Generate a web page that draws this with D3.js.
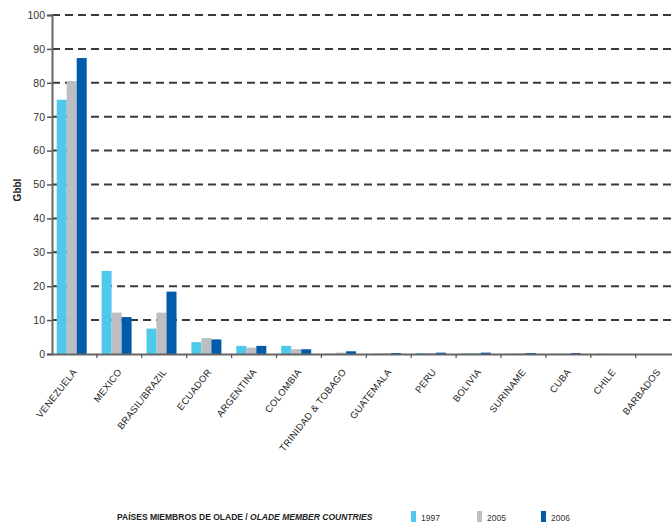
<!DOCTYPE html>
<html>
<head>
<meta charset="utf-8">
<script src="https://cdn.jsdelivr.net/npm/d3@7"></script>
<style>
  html, body { margin: 0; padding: 0; background: #fff; }
  svg { display: block; }
</style>
</head>
<body>
<svg id="chart" width="672" height="527"></svg>
<script>
const categories = ["VENEZUELA", "MEXICO", "BRASIL/BRAZIL", "ECUADOR", "ARGENTINA", "COLOMBIA",
  "TRINIDAD & TOBAGO", "GUATEMALA", "PERU", "BOLIVIA", "SURINAME", "CUBA", "CHILE", "BARBADOS"];
const seriesNames = ["1997", "2005", "2006"];
const values1997 = [75.0, 24.5, 7.5, 3.5, 2.4, 2.4, 0.1, 0.1, 0.3, 0.2, 0.1, 0.1, 0.1, 0.0];
const values2005 = [80.5, 12.2, 12.2, 4.7, 1.9, 1.4, 0.4, 0.2, 0.3, 0.3, 0.2, 0.1, 0.0, 0.0];
const values2006 = [87.3, 10.9, 18.4, 4.3, 2.4, 1.4, 0.8, 0.3, 0.4, 0.4, 0.3, 0.3, 0.0, 0.0];
const yTicks = [0, 10, 20, 30, 40, 50, 60, 70, 80, 90, 100];
const colors = ["#4EC9EC", "#BDBEC2", "#005BAA"];
const yLabel = "Gbbl";
const legendTitleNormal = "PAÍSES MIEMBROS DE OLADE / ";
const legendTitleItalic = "OLADE MEMBER COUNTRIES";

const allValues = [values1997, values2005, values2006];
const svg = d3.select("#chart");
const font = "'Liberation Sans Narrow', 'Arial Narrow', 'Liberation Sans', Arial, sans-serif";

const x0 = 52, yBase = 354, yTop = 15;
const step = 44.9;
const x = d3.scaleBand().domain(categories).range([x0, x0 + step * categories.length]).padding(0);
const xi = d3.scaleBand().domain(seriesNames).range([4.7, 34.7]).padding(0);
const y = d3.scaleLinear().domain([0, 100]).range([yBase, yTop]);

// gridlines
svg.append("g").selectAll("line").data(yTicks.filter(d => d > 0)).join("line")
  .attr("x1", x0).attr("x2", 672)
  .attr("y1", d => y(d)).attr("y2", d => y(d))
  .attr("stroke", "#3a3a3a").attr("stroke-width", 2)
  .attr("stroke-dasharray", "8,5");

// bars
const rows = categories.map((c, i) => ({ c, vals: seriesNames.map((s, j) => ({ s, v: allValues[j][i], j })) }));
svg.append("g").selectAll("g").data(rows).join("g")
  .attr("transform", d => `translate(${x(d.c)},0)`)
  .selectAll("rect").data(d => d.vals).join("rect")
  .attr("x", d => xi(d.s)).attr("width", xi.bandwidth())
  .attr("y", d => y(d.v)).attr("height", d => yBase - y(d.v))
  .attr("fill", d => colors[d.j]);

// y axis
const yAxis = d3.axisLeft(y).tickValues(yTicks).tickSize(5).tickPadding(2);
const gy = svg.append("g").attr("transform", `translate(${x0},0)`).call(yAxis);
gy.select(".domain").attr("stroke", "#666").attr("stroke-width", 2);
gy.selectAll(".tick line").attr("stroke", "#555").attr("stroke-width", 1.5);
gy.selectAll(".tick text").attr("font-family", font).attr("font-size", 10.5).attr("fill", "#333");

// x axis
const xAxis = d3.axisBottom(x).tickSize(0).tickFormat("");
const gx = svg.append("g").attr("transform", `translate(0,${yBase})`).call(xAxis);
gx.select(".domain").attr("stroke", "#666").attr("stroke-width", 2);
// boundary ticks
gx.append("g").selectAll("line").data(categories).join("line")
  .attr("x1", d => x(d) + step).attr("x2", d => x(d) + step)
  .attr("y1", 0).attr("y2", 4).attr("stroke", "#555").attr("stroke-width", 1.2);

// category labels
svg.append("g").selectAll("text").data(categories).join("text")
  .attr("transform", d => `translate(${x(d) + step / 2 + 3},${yBase + 18}) rotate(-52)`)
  .attr("text-anchor", "end")
  .attr("font-family", font).attr("font-size", 9.5).attr("letter-spacing", 0.3).attr("fill", "#222")
  .text(d => d);

// y label
svg.append("text")
  .attr("transform", `translate(21,190) rotate(-90)`)
  .attr("text-anchor", "middle")
  .attr("font-family", "'Liberation Sans', Arial, sans-serif").attr("font-weight", "bold")
  .attr("font-size", 10).attr("fill", "#222")
  .text(yLabel);

// legend title
const lt = svg.append("text").attr("x", 117).attr("y", 520)
  .attr("font-family", font).attr("font-weight", "bold").attr("font-size", 8.5).attr("fill", "#222");
lt.append("tspan").text(legendTitleNormal);
lt.append("tspan").attr("font-style", "italic").text(legendTitleItalic);

// legend entries
const legX = [411, 477, 541];
const lg = svg.append("g").selectAll("g").data(seriesNames).join("g")
  .attr("transform", (d, i) => `translate(${legX[i]},511)`);
lg.append("rect").attr("width", 5).attr("height", 11).attr("fill", (d, i) => colors[i]);
lg.append("text").attr("x", 10).attr("y", 10)
  .attr("font-family", font).attr("font-size", 8.5).attr("fill", "#333").text(d => d);
</script>
</body>
</html>
